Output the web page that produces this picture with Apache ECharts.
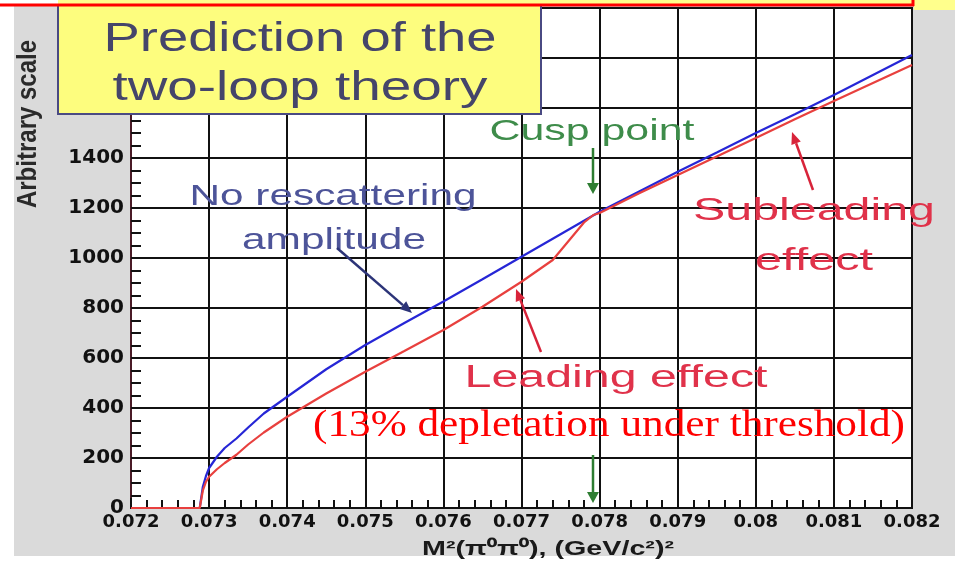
<!DOCTYPE html>
<html>
<head>
<meta charset="utf-8">
<script src="https://cdn.jsdelivr.net/npm/echarts@6/dist/echarts.min.js"></script>
<style>
  html, body { margin: 0; padding: 0; background: #fff; }
  #main { width: 955px; height: 564px; }
</style>
</head>
<body>
<div id="main"></div>
<script>
// values
const massBlue = [0.07288, 0.07292, 0.07296, 0.0730, 0.0731, 0.0732, 0.07335, 0.0735, 0.0737, 0.0740,
  0.0745, 0.0750, 0.0755, 0.0760, 0.0765, 0.0770, 0.0775, 0.0780, 0.0785, 0.0790,
  0.0795, 0.0800, 0.0805, 0.0810, 0.0815, 0.0820]
const ampBlue = [0, 85, 128, 160, 205, 240, 278, 322, 378, 445,
  555, 652, 740, 826, 915, 1005, 1095, 1185, 1265, 1345,
  1422, 1500, 1575, 1652, 1732, 1812]

const massRed = [0.0720, 0.07288, 0.07292, 0.07296, 0.0730, 0.0731, 0.0732, 0.07335, 0.0735, 0.0737,
  0.0740, 0.0745, 0.0750, 0.0755, 0.0760, 0.0765, 0.0770, 0.0774, 0.0776, 0.0778,
  0.07792, 0.0780, 0.0785, 0.0790, 0.0795, 0.0800, 0.0805, 0.0810, 0.0815, 0.0820]
const ampRed = [0, 0, 70, 105, 125, 155, 180, 213, 254, 302,
  365, 458, 545, 628, 712, 805, 905, 992, 1067, 1142,
  1172, 1180, 1258, 1332, 1406, 1480, 1555, 1628, 1700, 1772]

const xRange = [0.072, 0.082]
const xStep = 0.001
const yRange = [0, 2000]
const yStep = 200

const titleLines = ['Prediction of the', 'two-loop theory']
const xName = 'M²(π⁰π⁰), (GeV/c²)²'
const yName = 'Arbitrary scale'

const pairs = (xs, ys) => xs.map((x, i) => [x, ys[i]])

// stretch text horizontally so it spans the wanted width
const ctx = document.createElement('canvas').getContext('2d')
function fitText(text, cx, cy, font, color, width, extra) {
  ctx.font = font
  const w = ctx.measureText(text).width
  return Object.assign({
    type: 'text', x: cx, y: cy, scaleX: width / w, z: 50,
    style: { text: text, font: font, fill: color, align: 'center', verticalAlign: 'middle' }
  }, extra || {})
}
function arrow(x1, y1, x2, y2, color, lw, hl, hw) {
  const a = Math.atan2(y2 - y1, x2 - x1)
  const bx = x2 - hl * Math.cos(a), by = y2 - hl * Math.sin(a)
  const px = -Math.sin(a) * hw / 2, py = Math.cos(a) * hw / 2
  return [
    { type: 'line', z: 50, shape: { x1: x1, y1: y1, x2: bx, y2: by }, style: { stroke: color, lineWidth: lw } },
    { type: 'polygon', z: 50, shape: { points: [[x2, y2], [bx + px, by + py], [bx - px, by - py]] }, style: { fill: color } }
  ]
}

const sans = '"Liberation Sans", Arial, sans-serif'
const elements = [
  // page pieces around the frame
  { type: 'rect', z: 1, shape: { x: 0, y: 0, width: 14, height: 564 }, style: { fill: '#fff' } },
  { type: 'rect', z: 1, shape: { x: 0, y: 556, width: 955, height: 8 }, style: { fill: '#fff' } },
  { type: 'rect', z: 60, shape: { x: 0, y: 0, width: 58, height: 4 }, style: { fill: '#fff' } },
  { type: 'rect', z: 60, shape: { x: 58, y: 0, width: 897, height: 4 }, style: { fill: '#ffff8c' } },
  { type: 'rect', z: 60, shape: { x: 914, y: 0, width: 41, height: 10 }, style: { fill: '#ffff8c' } },
  { type: 'line', z: 61, shape: { x1: 0, y1: 5, x2: 914, y2: 5 }, style: { stroke: '#ff0000', lineWidth: 3 } },
  { type: 'line', z: 61, shape: { x1: 913, y1: 0, x2: 913, y2: 6 }, style: { stroke: '#ff0000', lineWidth: 3 } },
  // title box
  { type: 'rect', z: 55, shape: { x: 58, y: -2, width: 483, height: 116 },
    style: { fill: '#fdfd7e', stroke: '#4a4a82', lineWidth: 2 } },
  fitText(titleLines[0], 300, 40, '40px ' + sans, '#45456a', 393, { z: 56 }),
  fitText(titleLines[1], 300, 89, '40px ' + sans, '#45456a', 375, { z: 56 }),
  // axis titles
  fitText(xName, 548, 549, 'bold 20px ' + sans, '#1a1a1a', 252),
  { type: 'text', x: 28, y: 124, rotation: Math.PI / 2, scaleY: 1.15, z: 50,
    style: { text: yName, font: 'bold 24px ' + sans, fill: '#2a2a2a', align: 'center', verticalAlign: 'middle' } },
  // annotations
  fitText('Cusp point', 592, 132, '30px ' + sans, '#3e8c4a', 205),
  fitText('No rescattering', 333, 197, '29px ' + sans, '#4d5499', 287),
  fitText('amplitude', 334, 241, '29px ' + sans, '#4d5499', 184),
  fitText('Leading effect', 616, 378, '31px ' + sans, '#e0324a', 303),
  fitText('Subleading', 814, 211, '32px ' + sans, '#e0324a', 242),
  fitText('effect', 814, 261, '32px ' + sans, '#e0324a', 118),
  fitText('(13% depletation under threshold)', 609, 426, '37px "Liberation Serif", "Times New Roman", serif', '#ff0000', 592, { z: 52 })
].concat(
  arrow(593, 148, 593, 194, '#2e7d32', 2.5, 11, 12),
  arrow(593, 455, 593, 503, '#2e7d32', 2.5, 11, 12),
  arrow(337, 248, 412, 313, '#2c3478', 2.5, 12, 10),
  arrow(541, 352, 516, 289, '#d8243a', 2.5, 12, 10),
  arrow(813, 190, 792, 132, '#d8243a', 2.5, 12, 10)
)

const myChart = echarts.init(document.getElementById('main'))
myChart.setOption({
  backgroundColor: '#dadada',
  animation: false,
  grid: {
    left: 131, right: 43, top: 8, bottom: 56,
    show: true, backgroundColor: '#ffffff', borderColor: '#111', borderWidth: 2
  },
  xAxis: {
    type: 'value',
    min: xRange[0], max: xRange[1], interval: xStep,
    axisLine: { show: true, lineStyle: { color: '#111', width: 2 } },
    axisTick: { show: true, inside: true, length: 10, lineStyle: { color: '#111', width: 2 } },
    minorTick: { show: true, splitNumber: 5, length: 8, lineStyle: { color: '#111', width: 2 } },
    axisLabel: {
      color: '#111', fontFamily: 'DejaVu Sans', fontWeight: 'bold', fontSize: 18, margin: 5
    },
    splitLine: { show: true, lineStyle: { color: '#111', width: 2 } }
  },
  yAxis: {
    type: 'value',
    min: yRange[0], max: yRange[1], interval: yStep,
    axisLine: { show: true, lineStyle: { color: '#4a1a26', width: 2 } },
    axisTick: { show: true, inside: true, length: 12, lineStyle: { color: '#111', width: 2 } },
    minorTick: { show: true, splitNumber: 4, length: 10, lineStyle: { color: '#111', width: 2 } },
    axisLabel: {
      color: '#111', fontFamily: 'DejaVu Sans', fontWeight: 'bold', fontSize: 20, margin: 7,
      formatter: v => (v > 1600 ? '' : String(v))
    },
    splitLine: { show: true, lineStyle: { color: '#111', width: 2 } }
  },
  series: [
    {
      name: 'No rescattering amplitude', type: 'line', data: pairs(massBlue, ampBlue),
      showSymbol: false, clip: false, lineStyle: { color: '#2626d6', width: 2.2 }, z: 3
    },
    {
      name: 'Two-loop prediction', type: 'line', data: pairs(massRed, ampRed),
      showSymbol: false, clip: false, lineStyle: { color: '#e8403e', width: 2.2 }, z: 4
    }
  ],
  graphic: { elements: elements }
})
</script>
</body>
</html>
